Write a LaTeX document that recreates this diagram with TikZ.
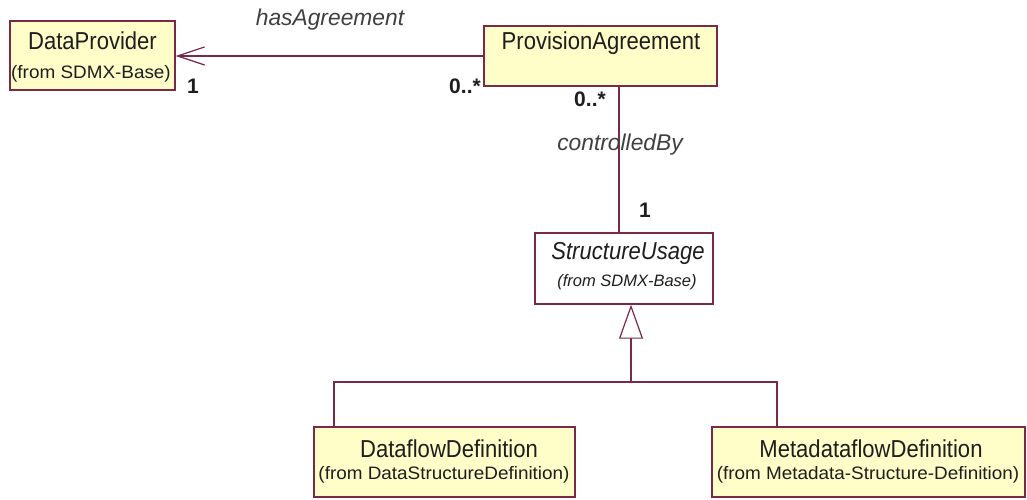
\documentclass[tikz,border=0pt]{standalone}
\usepackage{fontspec}
\setmainfont{Liberation Sans}
\newfontfamily\mainf[FakeStretch=0.9]{Liberation Sans}
\newfontfamily\subf[FakeStretch=1.05]{Liberation Sans}
\usetikzlibrary{arrows.meta}
\definecolor{umlline}{RGB}{122,42,72}
\definecolor{umlfill}{RGB}{255,253,200}
\definecolor{umltext}{RGB}{30,30,30}
\tikzset{
  x=1pt, y=-1pt,
  classbox/.style={draw=umlline, line width=1.4pt, fill=umlfill, inner sep=0pt},
  absbox/.style={classbox, fill=white},
  maintxt/.style={font=\mainf\fontsize{24.5}{27}\selectfont, text=umltext, inner sep=0pt},
  subtxt/.style={font=\subf\fontsize{18}{20}\selectfont, text=umltext, inner sep=0pt},
  roletxt/.style={font=\itshape\fontsize{22.8}{26}\selectfont, text=umltext!85, inner sep=0pt},
  multtxt/.style={font=\bfseries\fontsize{21}{24}\selectfont, text=umltext, inner sep=0pt},
  assoc/.style={draw=umlline, line width=1.2pt},
}
\begin{document}
\begin{tikzpicture}
\useasboundingbox[fill=white] (0,0) rectangle (1027,500);

% boxes
\node[classbox, minimum width=165pt, minimum height=69pt] (dp) at (92.5,55.5) {};
\node[maintxt] (dpt) at (92.5,41) {DataProvider};
\node[subtxt] (dps) at (91,74) {(from SDMX-Base)};

\node[classbox, minimum width=233pt, minimum height=60pt] (pa) at (600.5,56) {};
\node[maintxt] (pat) at (601,43) {ProvisionAgreement};

\node[absbox, minimum width=178pt, minimum height=71pt] (su) at (624,268.5) {};
\node[maintxt, font=\itshape\mainf\fontsize{24.5}{27}\selectfont] (sut) at (628,253) {StructureUsage};
\node[subtxt, font=\itshape\fontsize{16.5}{20}\selectfont] (sus) at (627,282) {(from SDMX-Base)};

\node[classbox, minimum width=261pt, minimum height=70pt] (df) at (444.5,462) {};
\node[maintxt] (dft) at (449,449) {DataflowDefinition};
\node[subtxt] (dfs) at (444,475) {(from DataStructureDefinition)};

\node[classbox, minimum width=313pt, minimum height=70pt] (mf) at (868.5,462) {};
\node[maintxt] (mft) at (871,449) {MetadataflowDefinition};
\node[subtxt] (mfs) at (868,475) {(from Metadata-Structure-Definition)};

% association hasAgreement
\draw[assoc, -{Straight Barb[length=27pt, width=18pt, line width=1.2pt]}] (pa.west |- 0,56) -- (dp.east |- 0,56);
\node[roletxt] (ha) at (330,20) {hasAgreement};
\node[multtxt] (m1) at (193,86) {1};
\node[multtxt] (m2) at (465,86) {0..*};

% association controlledBy
\draw[assoc] (pa.south -| 619,0) -- (su.north -| 619,0);
\node[roletxt] (cb) at (620,145) {controlledBy};
\node[multtxt] (m3) at (590,99) {0..*};
\node[multtxt] (m4) at (645,210) {1};

% generalization
\coordinate (junc) at (631,382);
\draw[assoc, -{Triangle[open, length=34pt, width=24pt, line width=1.2pt, fill=white]}] (junc) -- (su.south -| junc);
\draw[assoc] (df.north -| 334,0) |- (junc) -| (mf.north -| 777,0);
\end{tikzpicture}
\end{document}
